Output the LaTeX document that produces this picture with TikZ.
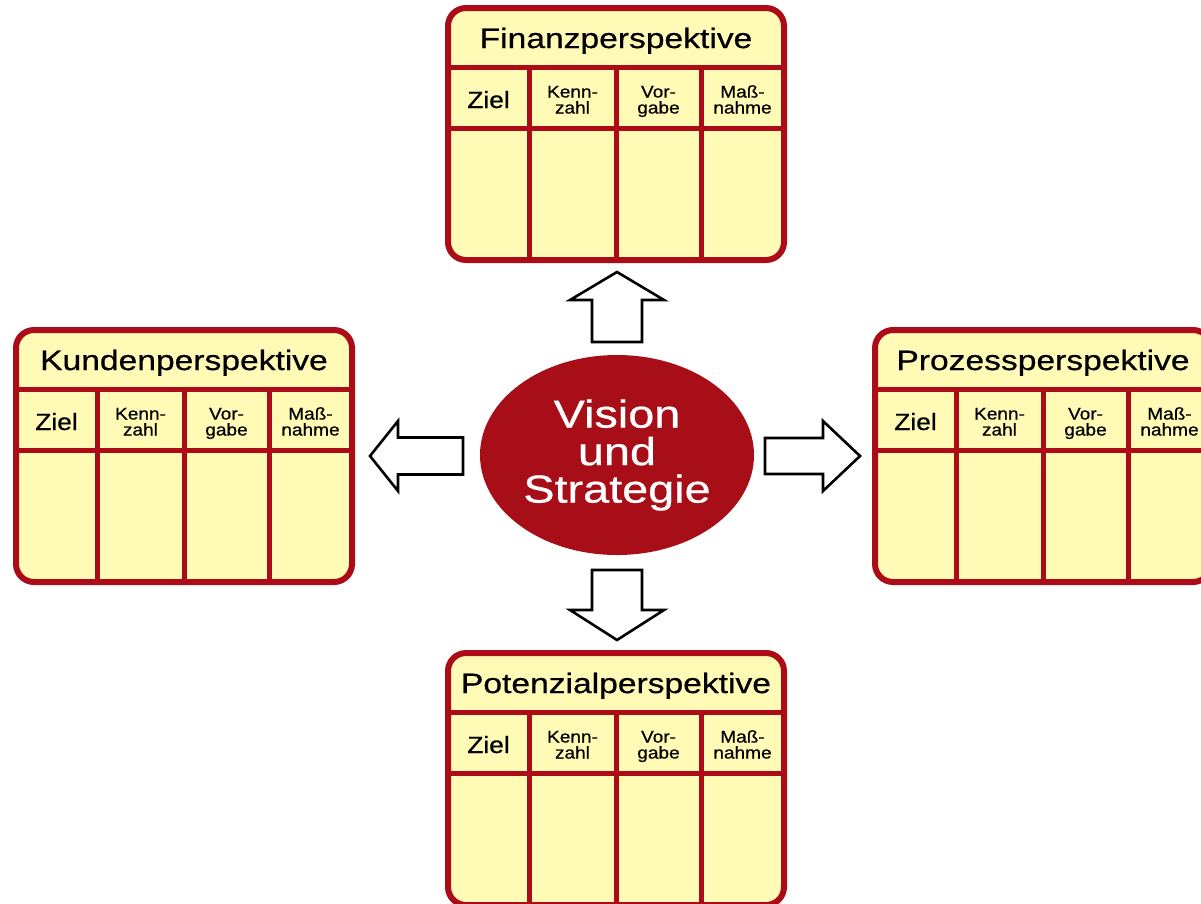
\documentclass[tikz,border=0pt]{standalone}
\usepackage{fontspec}
\setmainfont[FakeStretch=1.2, FakeBold=0.6]{Liberation Sans}
\newfontfamily\headfont[FakeStretch=1.12, FakeBold=0.6]{Liberation Sans}
\usetikzlibrary{shapes.geometric}

\definecolor{bscred}{RGB}{172,12,24}
\definecolor{bsccream}{RGB}{255,250,182}
\definecolor{bscvision}{RGB}{168,14,24}

\tikzset{
  cardframe/.style={draw=bscred, line width=6pt, fill=bsccream, rounded corners=18pt},
  cardrule/.style={draw=bscred, line width=5pt},
  cardtitle/.style={anchor=base, inner sep=0pt, font=\fontsize{28}{30}\selectfont},
  cardhead/.style={anchor=base, inner sep=0pt, font=\headfont\fontsize{23.5}{24}\selectfont},
  cardsmall/.style={anchor=base, inner sep=0pt, font=\headfont\fontsize{17}{17}\selectfont},
  blockarrow/.style={draw=black, line width=2.6pt, fill=white, line join=miter},
  visionnode/.style={ellipse, fill=bscvision, inner sep=0pt,
    minimum width=274pt, minimum height=200pt, text=white, align=center,
    font=\fontsize{39}{37.5}\selectfont},
}

% one perspective card: #1 name, #2/#3 top-left corner, #4 title
\newcommand\bsccard[4]{%
  \begin{scope}[shift={(#2,#3)}]
    \draw[cardframe] (0,0) rectangle (336,252);
    \draw[cardrule] (0,59) -- (336,59) (0,120) -- (336,120);
    \draw[cardrule] (81,59) -- (81,252) (168,59) -- (168,252) (253,59) -- (253,252);
    \node[cardtitle] (#1-title) at (168,40) {#4};
    \node[cardhead]  (#1-ziel)  at (40.5,100) {Ziel};
    \node[cardsmall] (#1-kenn)  at (124.5,89.5) {Kenn-};
    \node[cardsmall] (#1-zahl)  at (124.5,105.5) {zahl};
    \node[cardsmall] (#1-vor)   at (210.5,89.5) {Vor-};
    \node[cardsmall] (#1-gabe)  at (210.5,105.5) {gabe};
    \node[cardsmall] (#1-mass)  at (294.5,89.5) {Maß-};
    \node[cardsmall] (#1-nahme) at (294.5,105.5) {nahme};
  \end{scope}}

% hollow block arrow: #1 name, #2/#3 start of shaft, #4 direction,
% #5 length, #6 head length, #7 half shaft width, #8 half head width
\newcommand\bscarrow[8]{%
  \begin{scope}[shift={(#2,#3)}, rotate=#4]
    \coordinate (#1) at (0,0);
    \draw[blockarrow] (0,-#7) -- ({#5-#6},-#7) -- ({#5-#6},-#8) -- (#5,0)
      -- ({#5-#6},#8) -- ({#5-#6},#7) -- (0,#7) -- cycle;
  \end{scope}}

\begin{document}
\begin{tikzpicture}[x=1pt, y=-1pt]
  \useasboundingbox (0,0) rectangle (1201,903);
  \clip (0,0) rectangle (1201,903);
  \fill[white] (0,0) rectangle (1201,903);

  \bsccard{fin}{448}{8}{Finanzperspektive}
  \bsccard{kun}{16}{330}{Kundenperspektive}
  \bsccard{pro}{875}{330}{Prozessperspektive}
  \bsccard{pot}{448}{653}{Potenzialperspektive}

  \node[visionnode] (vision) at (617,455) {Vision\\und\\Strategie};

  \bscarrow{toFin}{617}{342}{90}{70}{28}{25}{47}
  \bscarrow{toPot}{617}{570}{-90}{70}{30}{25}{47}
  \bscarrow{toKun}{463}{456}{180}{93}{28}{18.5}{35}
  \bscarrow{toPro}{765}{456}{0}{95}{37}{18}{35}
\end{tikzpicture}
\end{document}
